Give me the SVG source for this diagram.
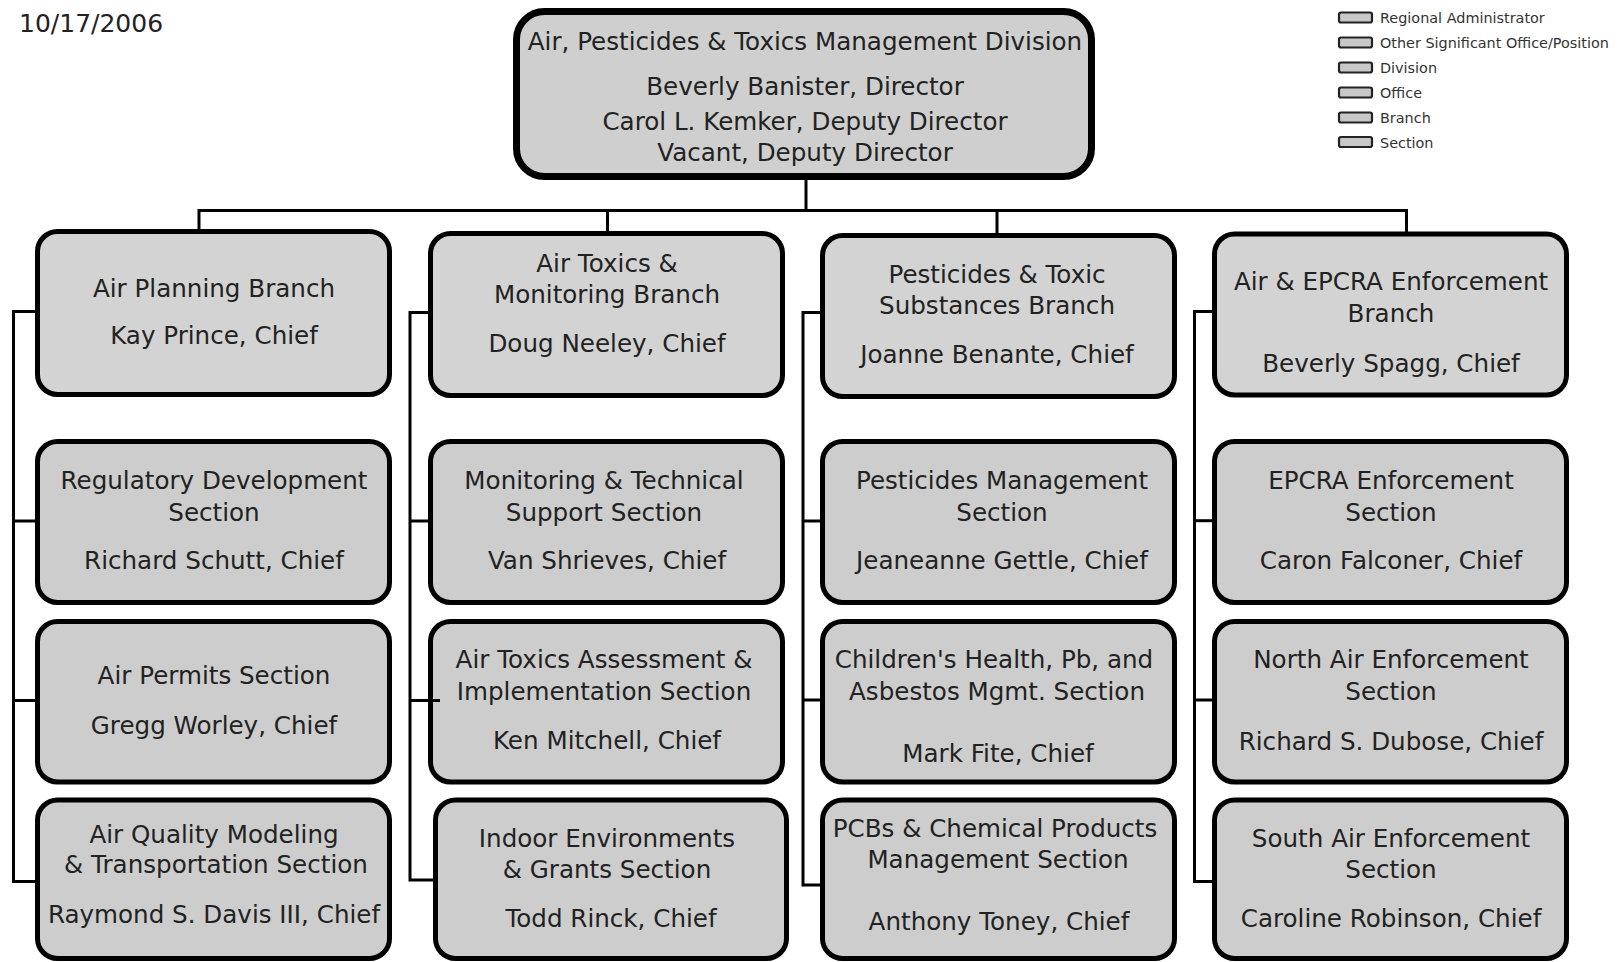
<svg xmlns="http://www.w3.org/2000/svg" width="1621" height="962" viewBox="0 0 1621 962">
<style>
.box{fill:#d3d3d3;stroke:#000;stroke-width:5}
.sec{fill:#cdcdcd}
.topbox{fill:#cfcfcf;stroke-width:7}
.t{font-family:"DejaVu Sans",Verdana,sans-serif;font-size:24.6px;fill:#222;text-anchor:middle}
.date{font-family:"DejaVu Sans",Verdana,sans-serif;font-size:25px;fill:#222}
.conn{stroke:#000;stroke-width:3;fill:none}
.lg{fill:#c8c8c8;stroke:#222;stroke-width:2.2}
.lt{font-family:"DejaVu Sans",Verdana,sans-serif;font-size:14.4px;fill:#333}
</style>
<rect width="1621" height="962" fill="#fff"/>
<text class="date" x="19" y="32">10/17/2006</text>

<g id="legend">
<rect class="lg" x="1339" y="12.5" width="33" height="10" rx="2"/><text class="lt" x="1380" y="23">Regional Administrator</text>
<rect class="lg" x="1339" y="37.5" width="33" height="10" rx="2"/><text class="lt" x="1380" y="48">Other Significant Office/Position</text>
<rect class="lg" x="1339" y="62.5" width="33" height="10" rx="2"/><text class="lt" x="1380" y="73">Division</text>
<rect class="lg" x="1339" y="87.5" width="33" height="10" rx="2"/><text class="lt" x="1380" y="98">Office</text>
<rect class="lg" x="1339" y="112.5" width="33" height="10" rx="2"/><text class="lt" x="1380" y="123">Branch</text>
<rect class="lg" x="1339" y="137" width="33" height="10" rx="2"/><text class="lt" x="1380" y="147.5">Section</text>
</g>

<g id="division">
<rect class="box topbox" x="516.5" y="11.5" width="575" height="165" rx="28"/>
<text class="t" x="805" y="50">Air, Pesticides &amp; Toxics Management Division</text>
<text class="t" x="805" y="95">Beverly Banister, Director</text>
<text class="t" x="805" y="130">Carol L. Kemker, Deputy Director</text>
<text class="t" x="805" y="160.5">Vacant, Deputy Director</text>
</g>

<g id="air-planning-branch">
<rect class="box" x="37.5" y="231.5" width="352" height="163" rx="20"/>
<text class="t" x="214" y="296.7">Air Planning Branch</text>
<text class="t" x="214" y="344">Kay Prince, Chief</text>
</g>
<g id="regulatory-development-section">
<rect class="box sec" x="37.5" y="441.5" width="352" height="161" rx="20"/>
<text class="t" x="214" y="489">Regulatory Development</text>
<text class="t" x="214" y="520.5">Section</text>
<text class="t" x="214" y="569">Richard Schutt, Chief</text>
</g>
<g id="air-permits-section">
<rect class="box sec" x="37.5" y="621.5" width="352" height="160.5" rx="20"/>
<text class="t" x="214" y="684">Air Permits Section</text>
<text class="t" x="214" y="734">Gregg Worley, Chief</text>
</g>
<g id="air-quality-modeling-section">
<rect class="box sec" x="37.5" y="800" width="352" height="158.5" rx="20"/>
<text class="t" x="214" y="843.3">Air Quality Modeling</text>
<text class="t" x="216" y="873.3">&amp; Transportation Section</text>
<text class="t" x="214" y="923.3">Raymond S. Davis III, Chief</text>
</g>

<g id="air-toxics-monitoring-branch">
<rect class="box" x="430.5" y="233.5" width="352" height="162" rx="20"/>
<text class="t" x="607" y="271.7">Air Toxics &amp;</text>
<text class="t" x="607" y="303.3">Monitoring Branch</text>
<text class="t" x="607" y="351.7">Doug Neeley, Chief</text>
</g>
<g id="monitoring-technical-support-section">
<rect class="box sec" x="430.5" y="441.5" width="352" height="161" rx="20"/>
<text class="t" x="604" y="489">Monitoring &amp; Technical</text>
<text class="t" x="604" y="520.5">Support Section</text>
<text class="t" x="607" y="569">Van Shrieves, Chief</text>
</g>
<g id="air-toxics-assessment-section">
<rect class="box sec" x="430.5" y="621.5" width="352" height="160.5" rx="20"/>
<text class="t" x="604" y="668">Air Toxics Assessment &amp;</text>
<text class="t" x="604" y="700">Implementation Section</text>
<text class="t" x="607" y="749">Ken Mitchell, Chief</text>
</g>
<g id="indoor-environments-section">
<rect class="box sec" x="435.5" y="800" width="351" height="158.5" rx="20"/>
<text class="t" x="607" y="847">Indoor Environments</text>
<text class="t" x="607" y="878">&amp; Grants Section</text>
<text class="t" x="611" y="927">Todd Rinck, Chief</text>
</g>

<g id="pesticides-toxic-substances-branch">
<rect class="box" x="822.5" y="235.5" width="352" height="161" rx="20"/>
<text class="t" x="997" y="283">Pesticides &amp; Toxic</text>
<text class="t" x="997" y="314">Substances Branch</text>
<text class="t" x="997" y="363">Joanne Benante, Chief</text>
</g>
<g id="pesticides-management-section">
<rect class="box sec" x="822.5" y="441.5" width="352" height="161" rx="20"/>
<text class="t" x="1002" y="489">Pesticides Management</text>
<text class="t" x="1002" y="520.5">Section</text>
<text class="t" x="1002" y="569">Jeaneanne Gettle, Chief</text>
</g>
<g id="childrens-health-section">
<rect class="box sec" x="822.5" y="621.5" width="352" height="160.5" rx="20"/>
<text class="t" x="994" y="668.3">Children's Health, Pb, and</text>
<text class="t" x="997" y="700">Asbestos Mgmt. Section</text>
<text class="t" x="998" y="761.7">Mark Fite, Chief</text>
</g>
<g id="pcbs-chemical-products-section">
<rect class="box sec" x="822.5" y="800" width="352" height="158.5" rx="20"/>
<text class="t" x="995" y="836.7">PCBs &amp; Chemical Products</text>
<text class="t" x="998" y="868.3">Management Section</text>
<text class="t" x="999" y="930">Anthony Toney, Chief</text>
</g>

<g id="air-epcra-enforcement-branch">
<rect class="box" x="1214.5" y="234" width="352" height="161" rx="20"/>
<text class="t" x="1391" y="290">Air &amp; EPCRA Enforcement</text>
<text class="t" x="1391" y="321.7">Branch</text>
<text class="t" x="1391" y="371.7">Beverly Spagg, Chief</text>
</g>
<g id="epcra-enforcement-section">
<rect class="box sec" x="1214.5" y="441.5" width="352" height="161" rx="20"/>
<text class="t" x="1391" y="488.5">EPCRA Enforcement</text>
<text class="t" x="1391" y="520.5">Section</text>
<text class="t" x="1391" y="568.5">Caron Falconer, Chief</text>
</g>
<g id="north-air-enforcement-section">
<rect class="box sec" x="1214.5" y="621.5" width="352" height="160.5" rx="20"/>
<text class="t" x="1391" y="668">North Air Enforcement</text>
<text class="t" x="1391" y="700">Section</text>
<text class="t" x="1391" y="750">Richard S. Dubose, Chief</text>
</g>
<g id="south-air-enforcement-section">
<rect class="box sec" x="1214.5" y="800" width="352" height="158.5" rx="20"/>
<text class="t" x="1391" y="847">South Air Enforcement</text>
<text class="t" x="1391" y="878">Section</text>
<text class="t" x="1391" y="927">Caroline Robinson, Chief</text>
</g>

<g id="connectors" class="conn">
<path d="M806 179 V210.5"/>
<path d="M199 231.5 V210.5 H1406.5 V234"/>
<path d="M607.5 210.5 V233.5"/>
<path d="M997 210.5 V235.5"/>
<path d="M37.5 311.5 H13.5 V881.5 H37.5"/>
<path d="M13.5 521 H37.5"/>
<path d="M13.5 700.5 H37.5"/>
<path d="M430.5 312.5 H410 V880 H435.5"/>
<path d="M410 521 H430.5"/>
<path d="M410 700.5 H440"/>
<path d="M822.5 312.5 H803 V885 H822.5"/>
<path d="M803 521 H822.5"/>
<path d="M803 700 H822.5"/>
<path d="M1214.5 311.5 H1194.5 V881.5 H1214.5"/>
<path d="M1194.5 520.7 H1214.5"/>
<path d="M1194.5 700 H1214.5"/>
</g>
</svg>
